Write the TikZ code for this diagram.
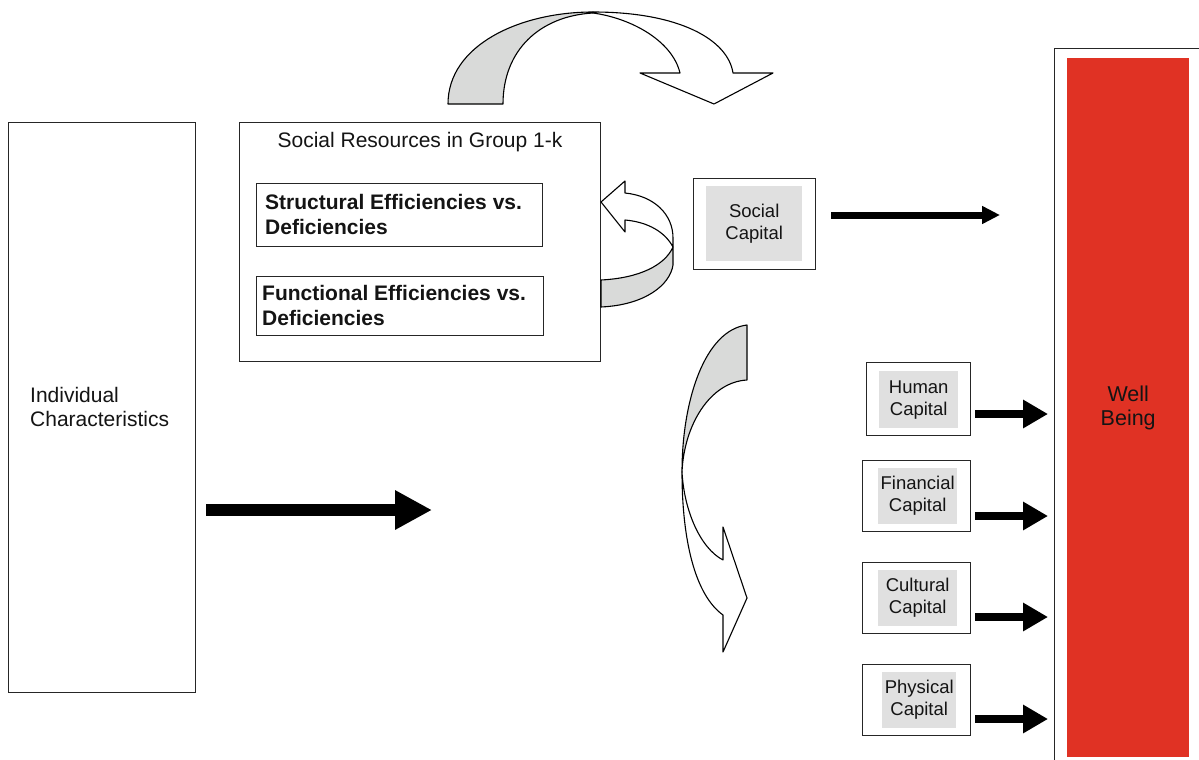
\documentclass[tikz,border=0pt]{standalone}
\usepackage{fontspec}
\setmainfont{Liberation Sans}
\usetikzlibrary{arrows.meta}
\definecolor{ribbon}{HTML}{D9DAD9}
\definecolor{panel}{HTML}{E0E0E0}
\definecolor{wellred}{HTML}{E03224}
\definecolor{ink}{HTML}{141414}

\begin{document}
\begin{tikzpicture}[x=1pt,y=-1pt,
  box/.style={draw=black!85, line width=1.2pt, fill=white, anchor=north west, inner sep=0pt},
  panelbox/.style={fill=panel, anchor=north west, inner sep=0pt, align=center,
    text=ink, font=\fontsize{18.5}{22}\selectfont},
  bigtext/.style={text=ink, font=\fontsize{21}{24}\selectfont, inner sep=0pt},
  boldtext/.style={text=ink, font=\bfseries\fontsize{21}{25}\selectfont, inner sep=0pt,
    align=left, anchor=west},
  rib/.style={draw=black, line width=1.1pt, line join=round},
  flowarrow/.style={draw=black, line width=7pt, -{Triangle[length=18pt,width=17pt]}},
  capitalarrow/.style={draw=black, line width=8pt, -{Triangle[length=25pt,width=27pt]}},
  mainarrow/.style={draw=black, line width=12pt, -{Triangle[length=37pt,width=37pt]}}
]
\clip (0,0) rectangle (1199,760);
\fill[white] (0,0) rectangle (1199,760);

% individual characteristics
\node[box, minimum width=187pt, minimum height=570pt] (indiv) at (8,122) {};
\node[bigtext, anchor=west, align=left] (indivtext) at (30,407) {Individual\\Characteristics};

% social resources in the group
\node[box, minimum width=361pt, minimum height=239pt] (socres) at (239,122) {};
\node[bigtext] (socrestitle) at (420,142) {Social Resources in Group 1-k};
\node[box, minimum width=286pt, minimum height=63pt] (struct) at (256,183) {};
\node[boldtext] (structtext) at (265,214) {Structural Efficiencies vs.\\Deficiencies};
\node[box, minimum width=287pt, minimum height=59pt] (func) at (256,276) {};
\node[boldtext] (functext) at (262,305) {Functional Efficiencies vs.\\Deficiencies};

% social capital
\node[box, minimum width=122pt, minimum height=91pt] (soccap) at (693,178) {};
\node[panelbox, minimum width=96pt, minimum height=75pt] (soccapin) at (706,186) {Social\\Capital};

% the other forms of capital
\node[box, minimum width=104pt, minimum height=73pt] (human) at (866,362) {};
\node[panelbox, minimum width=79pt, minimum height=57pt] (humanin) at (879,371) {Human\\Capital};
\node[box, minimum width=108pt, minimum height=71pt] (fin) at (862,460) {};
\node[panelbox, minimum width=79pt, minimum height=56pt] (finin) at (878,468) {Financial\\Capital};
\node[box, minimum width=108pt, minimum height=71pt] (cult) at (862,562) {};
\node[panelbox, minimum width=79pt, minimum height=56pt] (cultin) at (878,570) {Cultural\\Capital};
\node[box, minimum width=108pt, minimum height=71pt] (phys) at (862,664) {};
\node[panelbox, minimum width=74pt, minimum height=56pt] (physin) at (882,672) {Physical\\Capital};

% well being
\node[box, minimum width=160pt, minimum height=730pt] (well) at (1054,48) {};
\node[fill=wellred, anchor=north west, inner sep=0pt, minimum width=122pt, minimum height=699pt,
  align=center, text=ink, font=\fontsize{21.5}{24}\selectfont] (wellin) at (1067,58) {Well\\Being};

% straight arrows
\coordinate (mainA) at (206,510);
\coordinate (mainB) at (432,510);
\draw[mainarrow] (mainA) -- (mainB);

\coordinate (socA) at (831,215);
\coordinate (socB) at (1000,215);
\draw[flowarrow] (socA) -- (socB);

\foreach \nm/\yy in {humanA/414, finA/516, cultA/617, physA/719}{
  \coordinate (\nm) at (975,\yy);
  \coordinate (\nm end) at (1048,\yy);
  \draw[capitalarrow] (\nm) -- (\nm end);
}

% ribbon arrow over the top
\filldraw[rib, fill=ribbon] (448,104) .. controls (448,45) and (520,12) .. (593,12)
  -- (593,13) .. controls (540,16) and (503,50) .. (503,104) -- cycle;
\filldraw[rib, fill=white] (593,12) .. controls (680,12) and (728,40) .. (733,73)
  -- (773,73) -- (714,104) -- (640,73) -- (680,73)
  .. controls (672,40) and (630,18) .. (593,13) -- cycle;

% ribbon arrow looping back into the resources box
\filldraw[rib, fill=ribbon] (601,280) .. controls (640,278) and (665,265) .. (673,247)
  -- (673,265) .. controls (670,285) and (645,305) .. (601,307) -- cycle;
\filldraw[rib, fill=white] (601,202) -- (625,181) -- (625,193)
  .. controls (655,196) and (673,215) .. (673,238) -- (673,247)
  .. controls (665,232) and (648,222) .. (625,220) -- (625,232) -- cycle;

% ribbon arrow turning downwards
\filldraw[rib, fill=ribbon] (747,325) .. controls (705,330) and (682,400) .. (682,472)
  .. controls (684,425) and (710,382) .. (747,380) -- cycle;
\filldraw[rib, fill=white] (682,472) .. controls (682,540) and (695,595) .. (723,615)
  -- (723,652) -- (747,598) -- (723,527) -- (723,560)
  .. controls (700,548) and (684,510) .. (682,472) -- cycle;
\end{tikzpicture}
\end{document}
